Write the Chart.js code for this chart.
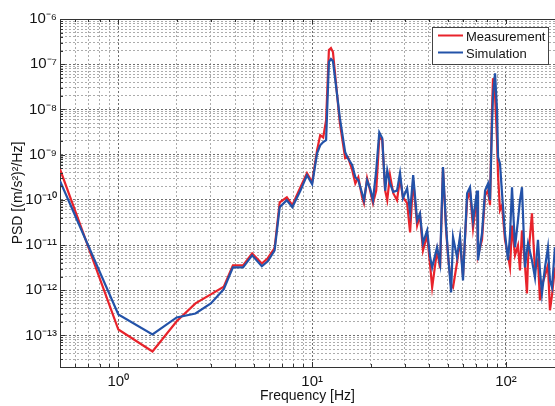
<!DOCTYPE html>
<html>
<head>
<meta charset="utf-8">
<script src="https://cdn.jsdelivr.net/npm/chart.js@4.4.1/dist/chart.umd.min.js"></script>
<style>
  body { margin: 0; background: #fff; }
</style>
</head>
<body>
<canvas id="psdChart" width="555" height="406"></canvas>
<script>
// frequency [Hz] and PSD [(m/s^2)^2/Hz]
var freqHz = [0.5, 1, 1.5, 2, 2.5, 3, 3.5, 3.9, 4.4, 4.9,
  5.5, 5.9, 6.4, 6.8, 7.4, 7.9, 8.7, 9.4, 10, 10.6,
  11, 11.4, 11.8, 12.2, 12.5, 12.8, 13.3, 13.9, 14.8, 15.3,
  16.1, 16.7, 17.3, 18.1, 18.5, 19.2, 19.9, 20.6, 21.4, 22.2,
  23, 23.8, 24.4, 25.2, 26.2, 27.4, 28.4, 29.4, 30.9, 32,
  33.2, 34.8, 36, 37.3, 39.2, 40.6, 41.6, 44.1, 45.7, 47.3,
  49.1, 50.2, 52.1, 53.3, 55.9, 57.9, 60, 63, 65.2, 67.6,
  70.9, 71.7, 75.2, 78, 80.8, 82.7, 84.7, 85.7, 87.8, 89.9,
  91, 93.1, 95.4, 98.8, 102.4, 104.9, 107.4, 111.3, 115.3, 118.1,
  120.9, 125.3, 128.3, 129.9, 136.1, 141.1, 146.2, 149.7, 153.3, 158.9,
  164.6, 168.6, 172.7, 178.9];

var measurement = [4.75e-10, 1.35e-13, 4.4e-14, 2.05e-13, 5.1e-13, 8.1e-13, 1.2e-12, 3.55e-12, 3.55e-12, 6.5e-12,
  3.9e-12, 5.1e-12, 8.5e-12, 8.8e-11, 1.14e-10, 7.6e-11, 1.9e-10, 3.9e-10, 2.45e-10, 1.25e-9,
  2.7e-9, 2.4e-9, 5.8e-9, 2.06e-7, 2.28e-7, 1.86e-7, 3.4e-8, 5.0e-9, 8.3e-10, 8.8e-10,
  4.5e-10, 2.3e-10, 3.15e-10, 1.14e-10, 8.4e-11, 3.0e-10, 1.6e-10, 8.4e-11, 1.6e-10, 2.4e-9,
  2.1e-9, 1.6e-10, 9.8e-11, 3.5e-10, 1.4e-10, 9.8e-11, 3.0e-10, 1.14e-10, 8.4e-11, 1.9e-11,
  2.7e-10, 2.7e-11, 4.6e-11, 7.6e-12, 1.65e-11, 3.55e-12, 1.15e-12, 7.6e-12, 3.05e-12, 5.0e-10,
  2.1e-11, 5.9e-12, 1.3e-12, 1.15e-12, 4.1e-12, 1.3e-11, 2.1e-12, 9.8e-11, 1.6e-10, 2.35e-11,
  1.25e-10, 5.9e-12, 1.3e-11, 1.25e-10, 1.6e-10, 7.6e-11, 9.6e-9, 4.9e-8, 2.06e-8, 2.1e-9,
  3.5e-10, 5.9e-11, 7.6e-11, 1.3e-11, 5.9e-12, 3.2e-12, 2.7e-11, 5.9e-12, 9.8e-12, 2.75e-12,
  2.1e-11, 3.55e-12, 8.5e-13, 4.6e-12, 5.0e-11, 2.75e-12, 4.6e-12, 5.95e-13, 1.3e-12, 2.1e-12,
  3.55e-12, 3.6e-13, 7.7e-13, 3.2e-12];

var simulation = [2.6e-10, 2.9e-13, 1.05e-13, 2.5e-13, 3.05e-13, 5.1e-13, 1.05e-12, 3.2e-12, 3.2e-12, 5.9e-12,
  3.4e-12, 4.35e-12, 7.6e-12, 6.9e-11, 9.8e-11, 6.9e-11, 1.6e-10, 3.5e-10, 2.2e-10, 1.07e-9,
  1.6e-9, 1.9e-9, 2.1e-9, 1.12e-7, 1.3e-7, 1.17e-7, 3.1e-8, 6.4e-9, 1.13e-9, 8.3e-10,
  5.8e-10, 3.15e-10, 2.7e-10, 1.4e-10, 9.8e-11, 2.7e-10, 1.8e-10, 9.8e-11, 4.5e-10, 3.1e-9,
  2.3e-9, 1.6e-10, 4.5e-10, 2.3e-10, 1.5e-10, 1.6e-10, 3.9e-10, 1.08e-10, 1.8e-10, 5.3e-11,
  3.5e-10, 3.5e-11, 5.0e-11, 1.1e-11, 2.1e-11, 5.35e-12, 3.2e-12, 8.9e-12, 3.9e-12, 5.3e-10,
  2.5e-11, 6.5e-12, 8.9e-13, 1.5e-11, 5.35e-12, 1.55e-11, 1.65e-12, 1.4e-10, 1.9e-10, 3.5e-11,
  1.6e-10, 4.6e-12, 1.8e-11, 1.6e-10, 2.3e-10, 9.8e-11, 4.5e-9, 2.06e-8, 6.3e-8, 9.6e-9,
  8.8e-10, 6.4e-10, 1.4e-10, 1.8e-11, 4.6e-12, 1.65e-11, 1.9e-10, 8.9e-12, 3.5e-11, 9.8e-11,
  1.9e-10, 3.2e-12, 7.6e-12, 1.1e-11, 4.6e-12, 1.9e-12, 1.3e-11, 2.75e-12, 8.5e-13, 3.2e-12,
  8.9e-12, 1.65e-12, 1.15e-12, 8.9e-12];

var xRange = [0.5, 179];
var yRange = [2e-14, 1e-6];

var FONT = '"Liberation Sans", Arial, sans-serif';
var TEXT = '#141414';

var sup = { '-': '\u207B', '0': '\u2070', '1': '\u00B9', '2': '\u00B2', '3': '\u00B3',
  '4': '\u2074', '5': '\u2075', '6': '\u2076', '7': '\u2077', '8': '\u2078', '9': '\u2079' };

function decadeLabel(v) {
  var e = Math.log10(v);
  if (Math.abs(e - Math.round(e)) > 1e-6) return '';
  return '10' + String(Math.round(e)).split('').map(function (c) { return sup[c]; }).join('');
}

// 1..9 x 10^n ticks, only the decades get a label
function decadeTicks(scale) {
  var ticks = [];
  var lo = Math.floor(Math.log10(scale.min));
  var hi = Math.ceil(Math.log10(scale.max));
  for (var e = lo; e <= hi; e++) {
    for (var m = 1; m <= 9; m++) {
      var v = m * Math.pow(10, e);
      if (v >= scale.min * 0.999 && v <= scale.max * 1.001) ticks.push({ value: v, major: m === 1 });
    }
  }
  scale.ticks = ticks;
}

function gridColor(c) {
  return c.tick && c.tick.major ? '#6e6e6e' : '#acacac';
}

function toPoints(ys) {
  return freqHz.map(function (f, i) { return { x: f, y: ys[i] }; });
}

// inward tick marks and top frame line, matlab style
var frameTicks = {
  id: 'frameTicks',
  afterDatasetsDraw: function (chart) {
    var ctx = chart.ctx, a = chart.chartArea;
    var sx = chart.scales.x, sy = chart.scales.y;
    ctx.save();
    ctx.strokeStyle = '#333';
    ctx.lineWidth = 1;
    ctx.beginPath();
    sx.ticks.forEach(function (t) {
      var px = Math.round(sx.getPixelForValue(t.value)) + 0.5;
      var len = t.major ? 5 : 3;
      ctx.moveTo(px, a.bottom); ctx.lineTo(px, a.bottom - len);
      ctx.moveTo(px, a.top); ctx.lineTo(px, a.top + len);
    });
    sy.ticks.forEach(function (t) {
      var py = Math.round(sy.getPixelForValue(t.value)) + 0.5;
      var len = t.major ? 5 : 3;
      ctx.moveTo(a.left, py); ctx.lineTo(a.left + len, py);
    });
    ctx.moveTo(a.left, a.top + 0.5); ctx.lineTo(a.right, a.top + 0.5);
    ctx.stroke();
    ctx.restore();
  }
};

// legend box inside the plot, top right
var boxLegend = {
  id: 'boxLegend',
  afterDraw: function (chart) {
    var ctx = chart.ctx, a = chart.chartArea;
    var x0 = a.right - 123, y0 = a.top + 8, w = 116, h = 37;
    ctx.save();
    ctx.fillStyle = '#fff';
    ctx.fillRect(x0, y0, w, h);
    ctx.strokeStyle = '#444';
    ctx.lineWidth = 1;
    ctx.strokeRect(x0 + 0.5, y0 + 0.5, w, h);
    ctx.font = '13px ' + FONT;
    ctx.textBaseline = 'middle';
    chart.data.datasets.forEach(function (ds, i) {
      var y = y0 + 8.5 + i * 17;
      ctx.strokeStyle = ds.borderColor;
      ctx.lineWidth = 2;
      ctx.beginPath();
      ctx.moveTo(x0 + 6, y); ctx.lineTo(x0 + 31, y);
      ctx.stroke();
      ctx.fillStyle = TEXT;
      ctx.fillText(ds.label, x0 + 34, y + 1.5);
    });
    ctx.restore();
  }
};

var ctx = document.getElementById('psdChart').getContext('2d');

var psdChart = new Chart(ctx, {
  type: 'line',
  data: {
    datasets: [
      {
        label: 'Measurement',
        data: toPoints(measurement),
        borderColor: '#e8232b',
        borderWidth: 2.2,
        pointRadius: 0,
        fill: false,
        order: 2
      },
      {
        label: 'Simulation',
        data: toPoints(simulation),
        borderColor: '#2352a8',
        borderWidth: 2.2,
        pointRadius: 0,
        fill: false,
        order: 1
      }
    ]
  },
  options: {
    responsive: false,
    animation: false,
    layout: { padding: { top: 19, right: 0, left: 0, bottom: 0 } },
    plugins: {
      legend: { display: false },
      tooltip: { enabled: false }
    },
    scales: {
      x: {
        type: 'logarithmic',
        min: xRange[0],
        max: xRange[1],
        afterBuildTicks: decadeTicks,
        afterFit: function (s) { s.height = 39; },
        grid: { color: gridColor, lineWidth: 1, drawTicks: false },
        border: { display: true, color: '#333', width: 1, dash: [2, 2] },
        ticks: {
          autoSkip: false,
          maxRotation: 0,
          padding: 6,
          color: TEXT,
          font: { family: FONT, size: 15 },
          callback: function (v) { return decadeLabel(v); }
        },
        title: {
          display: true,
          text: 'Frequency [Hz]',
          color: TEXT,
          font: { family: FONT, size: 14 },
          padding: { top: 0, bottom: 1 }
        }
      },
      y: {
        type: 'logarithmic',
        min: yRange[0],
        max: yRange[1],
        afterBuildTicks: decadeTicks,
        afterFit: function (s) { s.width = 60; },
        grid: { color: gridColor, lineWidth: 1, drawTicks: false },
        border: { display: true, color: '#333', width: 1, dash: [2, 2] },
        ticks: {
          autoSkip: false,
          padding: 3,
          color: TEXT,
          font: { family: FONT, size: 15 },
          callback: function (v) { return decadeLabel(v); }
        },
        title: {
          display: true,
          text: 'PSD [(m/s\u00B2)\u00B2/Hz]',
          color: TEXT,
          font: { family: FONT, size: 14 },
          padding: { top: 10, bottom: 0 }
        }
      }
    }
  },
  plugins: [frameTicks, boxLegend]
});
</script>
</body>
</html>
